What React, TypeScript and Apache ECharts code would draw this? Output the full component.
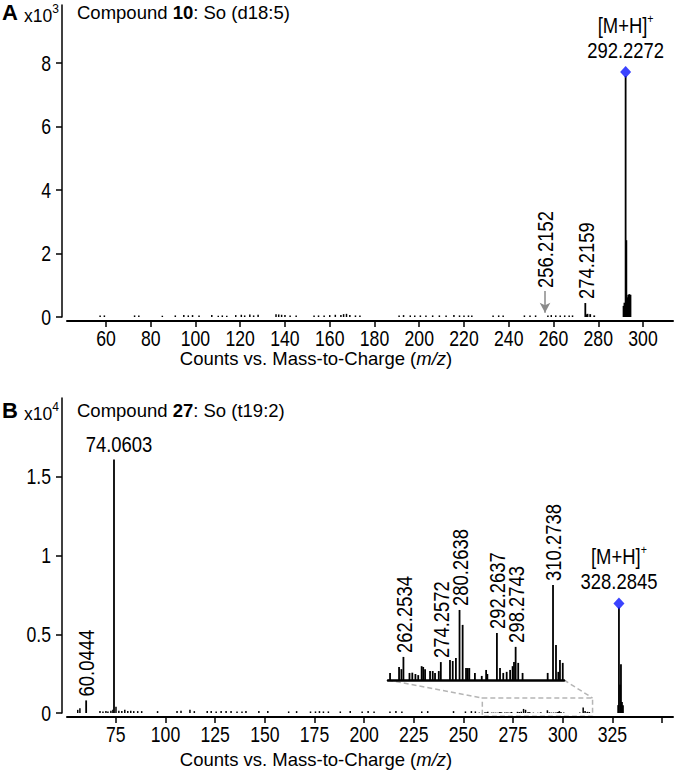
import React, { useEffect, useRef } from 'react';
import * as echarts from 'echarts';

const FONT = '"Liberation Sans", Arial, Helvetica, sans-serif';

// ---------- Panel A: Compound 10, So (d18:5), intensities in x10^3 ----------
const xRangeA = [42.6, 313.4];
const xTicksA = [60, 80, 100, 120, 140, 160, 180, 200, 220, 240, 260, 280, 300];
const yTicksA = [0, 2, 4, 6, 8];
const peaksA: [number, number][] = [
  [274.2159, 0.44], [274.7, 0.08], [275.2, 0.1], [276.4, 0.09], [278.2, 0.05],
  [291.3, 0.35], [291.7, 0.45], [292.2272, 7.59], [292.55, 2.42],
  [293.0, 0.62], [293.4, 0.7], [293.9, 0.72], [294.4, 0.7],
];
const noiseA: [number, number][] = [
  [57.4, 0.05], [59.3, 0.05], [72.8, 0.05], [74.7, 0.05], [85.2, 0.04], [91, 0.05],
  [94.8, 0.06], [96.8, 0.05], [98.7, 0.06], [101.6, 0.05], [107.3, 0.06], [110.2, 0.04],
  [112, 0.05], [114, 0.04], [118, 0.06], [120.5, 0.07], [122, 0.05], [124.3, 0.08],
  [126, 0.05], [128, 0.07], [136, 0.09], [137.2, 0.08], [138.5, 0.07], [140, 0.06],
  [142.3, 0.05], [145, 0.05], [153, 0.05], [155, 0.05], [157.5, 0.05], [160, 0.06],
  [162.5, 0.07], [165, 0.06], [166.2, 0.09], [167.5, 0.1], [169, 0.06], [171.5, 0.05],
  [173.5, 0.05], [191, 0.05], [193, 0.06], [196, 0.05], [198, 0.05], [200.5, 0.05],
  [203, 0.05], [206, 0.05], [209, 0.05], [212, 0.05], [215.5, 0.06], [218, 0.05],
  [220, 0.05], [222, 0.05], [223.5, 0.05], [233, 0.05], [235.5, 0.05], [237.5, 0.05],
  [247, 0.05], [249.5, 0.05], [252, 0.05], [257.5, 0.05], [259, 0.06], [261, 0.05],
  [263, 0.05], [265, 0.05], [267, 0.05], [268.5, 0.05],
];
const labelsA = [{ mz: 274.2159, y: 0.44, text: '274.2159' }];
const arrowA = { mz: 256.2152, top: 0.82, tip: 0.13, text: '256.2152' };
const precursorA = { mz: 292.2272, y: 7.59, text: '292.2272' };

// ---------- Panel B: Compound 27, So (t19:2), intensities in x10^4 ----------
const xRangeB = [50.4, 355.5];
const xTicksB = [50, 75, 100, 125, 150, 175, 200, 225, 250, 275, 300, 325, 350];
const xLabelsB = [75, 100, 125, 150, 175, 200, 225, 250, 275, 300, 325];
const yTicksB = [0, 0.5, 1, 1.5];
const peaksB: [number, number][] = [
  [60.0444, 0.08], [74.0603, 1.61],
  [327.9, 0.05], [328.2845, 0.67], [328.9, 0.18], [329.3, 0.31], [329.8, 0.07], [330.3, 0.05],
];
const noiseB: [number, number][] = [
  [55.8, 0.02], [56.9, 0.03], [67, 0.012], [68.5, 0.01], [70, 0.012], [71, 0.01],
  [72.5, 0.015], [73.5, 0.02], [75.06, 0.04], [76.5, 0.015], [78, 0.012], [79.5, 0.02],
  [81, 0.012], [82.5, 0.015], [84, 0.012], [86, 0.012], [88, 0.012], [96, 0.012],
  [105.8, 0.012], [107.8, 0.015], [112.3, 0.02], [114.5, 0.012], [121, 0.012], [123, 0.012],
  [125.5, 0.01], [128, 0.012], [130.5, 0.012], [133, 0.012], [136, 0.01], [138.5, 0.01],
  [140.5, 0.012], [147, 0.012], [151.5, 0.012], [162, 0.01], [166, 0.012], [173, 0.01],
  [175.5, 0.01], [177.5, 0.012], [179.5, 0.01], [182, 0.01], [188, 0.01], [193, 0.012],
  [199, 0.01], [202, 0.012], [205, 0.01], [213, 0.01], [216, 0.012], [219, 0.01],
  [229, 0.01], [232, 0.012], [245, 0.012], [251, 0.01], [254, 0.012], [256, 0.01],
];
// peaks in the zoomed region (shown both in main panel and in the inset)
const insetPeaksB: [number, number][] = [
  [257.96, 0.0026], [260.85, 0.0048], [261.6, 0.004], [262.2534, 0.0085], [264.2, 0.0026],
  [265.1, 0.0027], [266.1, 0.0022], [267.0, 0.0018], [268.1, 0.0051], [268.6, 0.0048],
  [269.2, 0.004], [270.8, 0.0033], [271.66, 0.0033], [272.4, 0.0026], [273.6, 0.0033],
  [274.2572, 0.0066], [277.2, 0.0074], [278.08, 0.007], [279.1, 0.0081], [280.2638, 0.0258],
  [281.26, 0.0203], [282.35, 0.0044], [282.9, 0.0044], [283.4, 0.0044], [285.2, 0.0026],
  [287.4, 0.0015], [288.8, 0.0037], [289.2, 0.0022], [292.2637, 0.0173], [293.26, 0.0044],
  [294.3, 0.0026], [295.4, 0.003], [296.5, 0.0037], [297.3, 0.0051], [297.75, 0.0066],
  [298.2743, 0.0122], [299.1, 0.0063], [300.5, 0.0026], [308.56, 0.0026], [310.2738, 0.035],
  [311.23, 0.0129], [311.97, 0.003], [312.5, 0.0074], [313.4, 0.0063],
];
const labelsBMain = [{ mz: 60.0444, y: 0.08, text: '60.0444' }];
const topLabelB = { mz: 74.0603, y: 1.61, text: '74.0603' };
const labelsInset = [
  { mz: 262.2534, y: 0.0085, text: '262.2534' },
  { mz: 274.2572, y: 0.0066, text: '274.2572' },
  { mz: 280.2638, y: 0.0258, text: '280.2638' },
  { mz: 292.2637, y: 0.0173, text: '292.2637' },
  { mz: 298.2743, y: 0.0122, text: '298.2743' },
  { mz: 310.2738, y: 0.035, text: '310.2738' },
];
const precursorB = { mz: 328.2845, y: 0.67, text: '328.2845' };
const insetRange = [257.3, 313.8];
const zoomBox = { x0: 259.5, x1: 315, yTop: 0.095, yBottom: -0.02 };

const FS = 18.5;      // headers, axis titles
const NFS = 22.5;     // peak labels (condensed)
const TFS = 21.5;     // tick labels (condensed)
const SX = 0.82;      // horizontal condensation of narrow texts
const X_OFFSET = 4;   // x-axis line below zero level
const Y_OFFSET = 5;   // y-axis line left of the grid

function peakSeries(data: [number, number][], xi: number, yi: number, lw: number) {
  return {
    type: 'custom',
    xAxisIndex: xi,
    yAxisIndex: yi,
    data,
    encode: { x: 0, y: 1 },
    silent: true,
    renderItem: (_p: any, api: any) => {
      const x = api.value(0);
      const y = api.value(1);
      const a = api.coord([x, 0]);
      const b = api.coord([x, y]);
      return {
        type: 'line',
        shape: { x1: a[0], y1: a[1], x2: b[0], y2: b[1] },
        style: { stroke: '#000', lineWidth: lw },
      };
    },
  };
}

function diamondSeries(p: { mz: number; y: number }, xi: number, yi: number) {
  return {
    type: 'scatter',
    xAxisIndex: xi,
    yAxisIndex: yi,
    symbol: 'diamond',
    symbolSize: [11, 12],
    symbolOffset: [0, -4],
    itemStyle: { color: '#0a14ff' },
    silent: true,
    data: [[p.mz, p.y]],
  };
}

const axisCommon = {
  axisLine: { show: true, onZero: false, lineStyle: { color: '#000', width: 2 } },
  splitLine: { show: false },
  axisLabel: { show: false },
};

const option: any = {
  animation: false,
  backgroundColor: '#fff',
  grid: [
    { left: 67, right: 2, top: 5, bottom: 457 },
    { left: 67, right: 2, top: 398, bottom: 61 },
    { left: 388, right: 111, top: 560, bottom: 94 },
  ],
  xAxis: [
    {
      type: 'value', gridIndex: 0, min: xRangeA[0], max: xRangeA[1], offset: X_OFFSET, ...axisCommon,
      axisTick: { show: true, length: 6, lineStyle: { color: '#000', width: 1.5 }, customValues: xTicksA },
      axisLabel: { show: false, customValues: xTicksA },
    },
    {
      type: 'value', gridIndex: 1, min: xRangeB[0], max: xRangeB[1], offset: X_OFFSET, ...axisCommon,
      axisTick: { show: true, length: 6, lineStyle: { color: '#000', width: 1.5 }, customValues: xTicksB },
      axisLabel: { show: false, customValues: xLabelsB },
    },
    {
      type: 'value', gridIndex: 2, min: insetRange[0], max: insetRange[1], ...axisCommon,
      axisLine: { show: true, onZero: false, lineStyle: { color: '#000', width: 2.5 } },
      axisTick: { show: false },
    },
  ],
  yAxis: [
    {
      type: 'value', gridIndex: 0, min: 0, max: 9.83, offset: Y_OFFSET, ...axisCommon,
      axisLine: { show: true, lineStyle: { color: '#000', width: 1.5 } },
      axisTick: { show: true, length: 6, lineStyle: { color: '#000', width: 1.5 }, customValues: yTicksA },
      axisLabel: { show: false, customValues: yTicksA },
    },
    {
      type: 'value', gridIndex: 1, min: 0, max: 2.0, offset: Y_OFFSET, ...axisCommon,
      axisLine: { show: true, lineStyle: { color: '#000', width: 1.5 } },
      axisTick: { show: true, length: 6, lineStyle: { color: '#000', width: 1.5 }, customValues: yTicksB },
      axisLabel: { show: false, customValues: yTicksB },
    },
    { type: 'value', gridIndex: 2, min: 0, max: 0.0442, show: false, splitLine: { show: false } },
  ],
  series: [
    peakSeries(noiseA, 0, 0, 1.5),
    peakSeries(peaksA, 0, 0, 1.8),
    {
      type: 'scatter', xAxisIndex: 0, yAxisIndex: 0, symbolSize: 1, silent: true,
      itemStyle: { color: 'rgba(0,0,0,0)' },
      data: [[arrowA.mz, arrowA.top]],
      markLine: {
        silent: true,
        symbol: ['none', 'arrow'],
        symbolSize: [8, 10],
        label: { show: false },
        lineStyle: { color: '#8a8a8a', width: 1.5, type: 'solid' },
        data: [[{ coord: [arrowA.mz, arrowA.top] }, { coord: [arrowA.mz, arrowA.tip] }]],
      },
    },
    diamondSeries(precursorA, 0, 0),

    peakSeries(noiseB, 1, 1, 1.5),
    peakSeries(insetPeaksB, 1, 1, 1.5),
    peakSeries(peaksB, 1, 1, 1.8),
    diamondSeries(precursorB, 1, 1),

    peakSeries(insetPeaksB, 2, 2, 1.8),
  ],
};

const nfont = (fs: number) => `${fs}px ${FONT}`;

function narrowText(text: string, x: number, y: number, fs: number, align: string, vAlign: string, rotation = 0) {
  return {
    type: 'text', silent: true, x, y, rotation, scaleX: SX, scaleY: 1,
    style: { text, font: nfont(fs), fill: '#000', align, verticalAlign: vAlign },
  };
}

export default function App() {
  const ref = useRef<HTMLDivElement>(null);
  useEffect(() => {
    if (!ref.current) return;
    const chart = echarts.init(ref.current, null, { renderer: 'svg' });
    chart.setOption(option);
    const px = (g: number, v: number[]) => chart.convertToPixel({ gridIndex: g } as any, v) as number[];
    const els: any[] = [];

    // tick labels
    const xLabels = (g: number, vals: number[]) => {
      vals.forEach((v) => {
        const p = px(g, [v, 0]);
        els.push(narrowText(String(v), p[0], p[1] + X_OFFSET + 17, TFS, 'center', 'middle'));
      });
    };
    const yLabels = (g: number, xmin: number, vals: number[]) => {
      vals.forEach((v) => {
        const p = px(g, [xmin, v]);
        const axisX = p[0] - Y_OFFSET;
        els.push(narrowText(String(v), axisX - 11, p[1], TFS, 'right', 'middle'));
      });
    };
    xLabels(0, xTicksA);
    xLabels(1, xLabelsB);
    yLabels(0, xRangeA[0], yTicksA);
    yLabels(1, xRangeB[0], yTicksB);

    // rotated peak labels
    const rot = (g: number, items: { mz: number; y: number; text: string }[], dist: number) => {
      items.forEach((d) => {
        const p = px(g, [d.mz, d.y]);
        els.push(narrowText(d.text, p[0], p[1] - dist, NFS, 'left', 'middle', Math.PI / 2));
      });
    };
    rot(0, labelsA, 4);
    rot(0, [{ mz: arrowA.mz, y: arrowA.top, text: arrowA.text }], 3);
    rot(1, labelsBMain, 4);
    rot(2, labelsInset, 4);

    // horizontal label for 74.0603
    {
      const p = px(1, [topLabelB.mz, topLabelB.y]);
      els.push(narrowText(topLabelB.text, p[0] + 5, p[1] - 4, NFS, 'center', 'bottom'));
    }

    // precursor labels
    const prec = (g: number, pr: { mz: number; y: number; text: string }) => {
      const p = px(g, [pr.mz, pr.y]);
      els.push({
        type: 'text', silent: true, x: p[0], y: p[1] - 14, scaleX: SX, scaleY: 1,
        style: {
          text: '{n|[M+H]}{s|+}\n{n|' + pr.text + '}', align: 'center', verticalAlign: 'bottom', fill: '#000',
          rich: {
            n: { fontSize: NFS, fontFamily: FONT, lineHeight: 25, verticalAlign: 'middle' },
            s: { fontSize: 13, fontFamily: FONT, lineHeight: 25, verticalAlign: 'top' },
          },
        },
      });
    };
    prec(0, precursorA);
    prec(1, precursorB);

    // headers
    const header = (label: string, exp: string, num: string, rest: string, top: number) => [
      { type: 'text', silent: true, x: 2, y: top, style: { text: label, font: `bold 22px ${FONT}`, fill: '#000' } },
      {
        type: 'text', silent: true, x: 59, y: top + 2,
        style: {
          text: '{a|x10}{b|' + exp + '}', align: 'right', fill: '#000',
          rich: {
            a: { fontSize: 17.5, fontFamily: FONT, lineHeight: 22, verticalAlign: 'bottom' },
            b: { fontSize: 12, fontFamily: FONT, lineHeight: 22, verticalAlign: 'top' },
          },
        },
      },
      {
        type: 'text', silent: true, x: 77, y: top,
        style: {
          text: '{a|Compound }{b|' + num + '}{a|' + rest + '}', fill: '#000',
          rich: {
            a: { fontSize: FS, fontFamily: FONT, lineHeight: 22 },
            b: { fontSize: FS, fontFamily: FONT, fontWeight: 'bold', lineHeight: 22 },
          },
        },
      },
    ];
    els.push(...header('A', '3', '10', ': So (d18:5)', 1));
    els.push(...header('B', '4', '27', ': So (t19:2)', 399));

    const axisTitle = (y: number) => ({
      type: 'text', silent: true, x: 316, y,
      style: {
        text: '{a|Counts vs. Mass-to-Charge (}{i|m/z}{a|)}', align: 'center', verticalAlign: 'middle', fill: '#000',
        rich: {
          a: { fontSize: FS, fontFamily: FONT },
          i: { fontSize: FS, fontFamily: FONT, fontStyle: 'italic' },
        },
      },
    });
    els.push(axisTitle(358), axisTitle(759));

    // zoom box and connectors
    const tl = px(1, [zoomBox.x0, zoomBox.yTop]);
    const br = px(1, [zoomBox.x1, zoomBox.yBottom]);
    const il = px(2, [insetRange[0], 0]);
    const ir = px(2, [insetRange[1], 0]);
    const gray = '#b5b5b5';
    const dash = { stroke: gray, lineWidth: 1.5, lineDash: [5, 3] };
    els.push(
      { type: 'rect', silent: true, shape: { x: tl[0], y: tl[1], width: br[0] - tl[0], height: br[1] - tl[1] }, style: { fill: 'none', ...dash } },
      { type: 'line', silent: true, shape: { x1: il[0], y1: il[1], x2: tl[0], y2: tl[1] }, style: dash },
      { type: 'line', silent: true, shape: { x1: ir[0], y1: ir[1], x2: br[0], y2: tl[1] }, style: dash },
    );

    chart.setOption({ graphic: els });
    return () => chart.dispose();
  }, []);
  return (
    <div
      ref={ref}
      style={{ position: 'fixed', left: 0, top: 0, width: 675, height: 774, background: '#fff' }}
    />
  );
}
